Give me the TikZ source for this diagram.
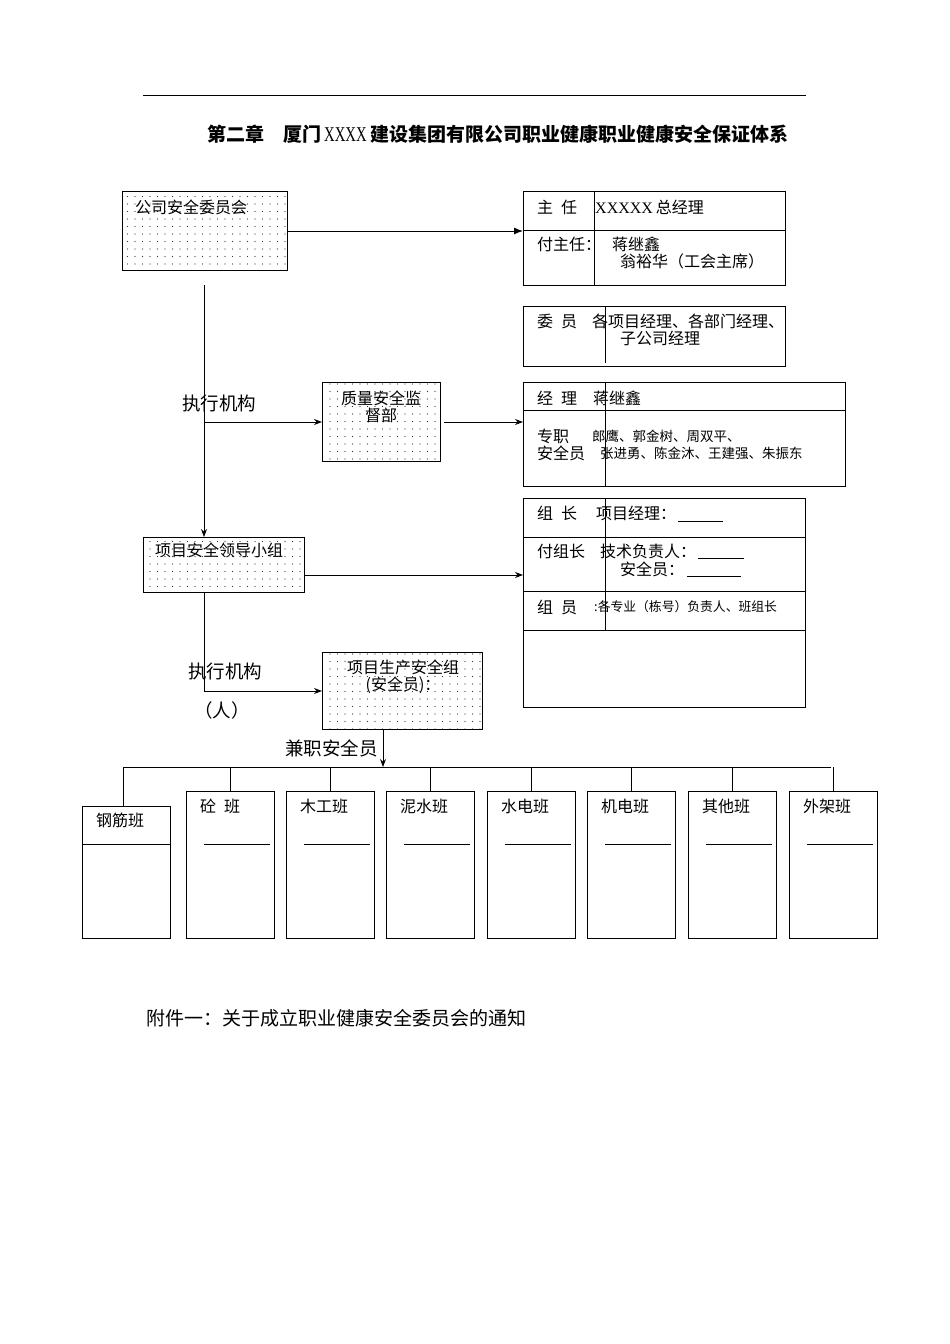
\documentclass[tikz,border=0pt]{standalone}
\usepackage{fontspec}
\setmainfont{Noto Sans CJK SC}
\newfontfamily\serc{Liberation Serif}[FakeStretch=0.7]
\newfontfamily\serif{Liberation Serif}
\usetikzlibrary{patterns.meta,arrows.meta}
\begin{document}
\begin{tikzpicture}[x=1pt,y=-1pt,
  ln/.style={line width=1pt,draw=black},
  arr/.style={ln,-{Stealth[length=8pt,width=6pt]}},
  box/.style={ln,rectangle,inner sep=0pt,anchor=north west},
  dotbox/.style={box,pattern={Dots[distance=7.5pt,radius=0.55pt]},pattern color=black!80},
  txt/.style={inner sep=0pt,anchor=west,font=\fontsize{16}{16}\selectfont},
  big/.style={inner sep=0pt,anchor=west,font=\fontsize{18.5}{18.5}\selectfont},
  small/.style={inner sep=0pt,anchor=west,font=\fontsize{13.5}{13.5}\selectfont},
  tiny/.style={inner sep=0pt,anchor=west,font=\fontsize{12.8}{12.8}\selectfont},
  ctxt/.style={inner sep=0pt,anchor=center,font=\fontsize{16}{16}\selectfont}]
\useasboundingbox (0,0) rectangle (950,1344);
\fill[white] (0,0) rectangle (950,1344);

% top rule and title
\coordinate (ruleL) at (143,95);
\coordinate (ruleR) at (806,95);
\draw[line width=1pt] (ruleL) -- (ruleR);
\node[inner sep=0pt,anchor=west,font=\fontsize{19}{19}\selectfont\bfseries] (title) at (207,134)
  {第二章\hspace{19pt}厦门\hspace{3pt}{\mdseries\serc\fontsize{21}{21}\selectfont XXXX}\hspace{4pt}建设集团有限公司职业健康职业健康安全保证体系};

% left column boxes
\node[dotbox,minimum width=165pt,minimum height=79pt] (b1) at (122,191) {};
\node[txt] (b1t) at (135,207) {公司安全委员会};
\node[dotbox,minimum width=118pt,minimum height=79pt] (b2) at (322,382) {};
\node[ctxt] (b2t1) at (381,398) {质量安全监};
\node[ctxt] (b2t2) at (381,415) {督部};
\node[dotbox,minimum width=161pt,minimum height=55pt] (b3) at (143,537) {};
\node[txt] (b3t) at (155,550) {项目安全领导小组};
\node[dotbox,minimum width=160pt,minimum height=77pt] (b4) at (322,652) {};
\node[ctxt] (b4t1) at (403,667) {项目生产安全组};
\node[ctxt] (b4t2) at (403,685) {(安全员)：};

% right box 1
\node[box,minimum width=262pt,minimum height=94pt] (r1) at (523,191) {};
\draw[ln] (523,230) -- (785,230);
\draw[ln] (594,191) -- (594,285);
\node[txt] (r1a) at (537,207) {主\hspace{8pt}任};
\node[txt] (r1b) at (595,207) {{\serif XXXXX}\hspace{3pt}总经理};
\node[txt] (r1c) at (537,244) {付主任：};
\node[txt] (r1d) at (612,244) {蒋继鑫};
\node[txt] (r1e) at (620,261) {翁裕华（工会主席）};

% right box 2
\node[box,minimum width=262pt,minimum height=60pt] (r2) at (523,306) {};
\draw[ln] (605,306) -- (605,363);
\node[txt] (r2a) at (537,321) {委\hspace{8pt}员};
\node[txt] (r2b) at (592,321) {各项目经理、各部门经理、};
\node[txt] (r2c) at (620,338) {子公司经理};

% right box 3
\node[box,minimum width=322pt,minimum height=104pt] (r3) at (523,382) {};
\draw[ln] (523,410) -- (845,410);
\draw[ln] (605,382) -- (605,486);
\node[txt] (r3a) at (537,398) {经\hspace{8pt}理\hspace{16pt}蒋继鑫};
\node[txt] (r3b) at (537,436) {专职};
\node[small] (r3c) at (592,436) {郎鹰、郭金树、周双平、};
\node[txt] (r3d) at (537,453) {安全员};
\node[small] (r3e) at (600,453) {张进勇、陈金沐、王建强、朱振东};

% right box 4
\node[box,minimum width=282pt,minimum height=209pt] (r4) at (523,498) {};
\draw[ln] (523,537) -- (805,537);
\draw[ln] (523,591) -- (805,591);
\draw[ln] (523,630) -- (805,630);
\draw[ln] (605,498) -- (605,630);
\node[txt] (r4a) at (537,513) {组\hspace{8pt}长};
\node[txt] (r4b) at (596,513) {项目经理：};
\draw[ln] (678,521) -- (723,521);
\node[txt] (r4c) at (537,551) {付组长};
\node[txt] (r4d) at (600,551) {技术负责人：};
\draw[ln] (698,558) -- (744,558);
\node[txt] (r4e) at (620,569) {安全员：};
\draw[ln] (687,576) -- (741,576);
\node[txt] (r4f) at (537,607) {组\hspace{8pt}员};
\node[tiny] (r4g) at (594,607) {:各专业（栋号）负责人、班组长};

% connectors
\draw[-{Latex[length=9pt,width=7pt]},line width=1pt] (b1.east) -- (b1.east -| r1.west);
\coordinate (c1) at (204,285);
\draw[arr] (c1) -- (c1 |- b3.north);
\draw[arr] (c1 |- b2.west) -- (b2.west);
\coordinate (c2) at (444,422);
\draw[arr] (c2) -- (c2 -| r3.west);
\coordinate (c3) at (304,575);
\draw[arr] (c3) -- (c3 -| r4.west);
\draw[arr] (c1 |- b3.south) |- (b4.west);
\node[big] (l1) at (182,403) {执行机构};
\node[big] (l2) at (188,671) {执行机构};
\node[big] (l3) at (194,710) {（人）};

% bottom teams
\coordinate (c4) at (383,729);
\coordinate (bus) at (383,767);
\draw[arr] (c4) -- (bus);
\node[big,anchor=east] (l4) at (378,748) {兼职安全员};
\draw[ln] (123,767) -- (831,767);

\node[box,minimum width=88pt,minimum height=132pt] (t1) at (82,806) {};
\draw[ln] (82,844) -- (170,844);
\node[txt] (t1t) at (96,820) {钢筋班};
\draw[ln] (123,767) -- (t1.north -| 123,0);

\foreach \nm/\xx/\lab in {t2/186/{砼\hspace{8pt}班},t3/286/木工班,t4/386/泥水班,t5/487/水电班,t6/587/机电班,t7/688/其他班,t8/789/外架班}{
  \node[box,minimum width=88pt,minimum height=147pt] (\nm) at (\xx,791) {};
  \node[txt] (\nm t) at (\xx+14,806) {\lab};
  \draw[ln] (\xx+18,844) -- (\xx+84,844);
  \draw[ln] (\nm.north |- bus) -- (\nm.north);
}

\node[big,font=\fontsize{19}{19}\selectfont] (foot) at (146,1018) {附件一：关于成立职业健康安全委员会的通知};
\end{tikzpicture}
\end{document}
